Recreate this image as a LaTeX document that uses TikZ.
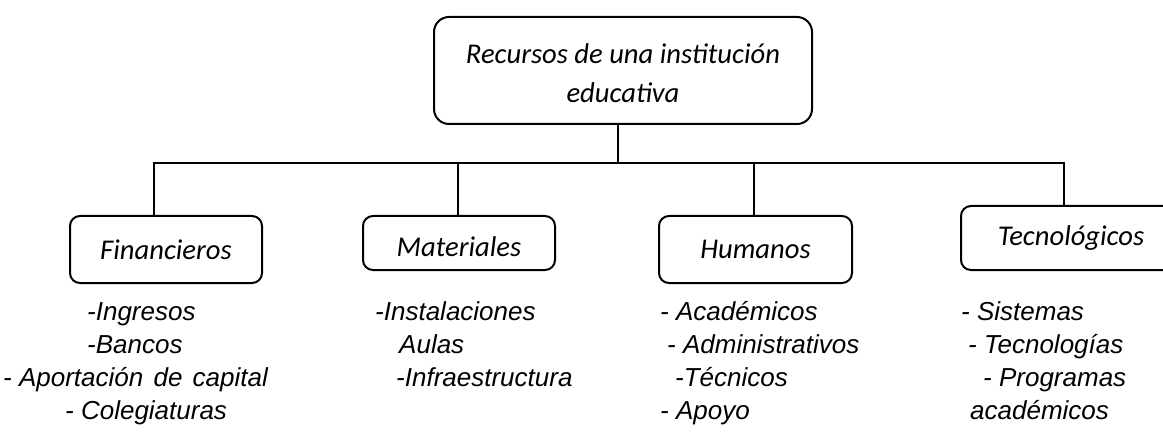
\documentclass[tikz,border=0pt]{standalone}
\usepackage{fontspec}
\setmainfont{Carlito}
\newfontfamily\arialf{Liberation Sans}
\begin{document}
\begin{tikzpicture}[x=1pt,y=-1pt,
  box/.style={draw, line width=2pt, rounded corners=10pt, inner sep=0pt,
    font=\fontsize{28.6}{39}\selectfont\itshape},
  conn/.style={line width=2.4pt},
  item/.style={anchor=base west, inner sep=0pt,
    font=\arialf\fontsize{26}{33}\selectfont\itshape}]
\useasboundingbox (0,0) rectangle (1163,433);
\clip (0,0) rectangle (1163,433);
\node[box, rounded corners=15pt, minimum width=378pt, minimum height=107pt, align=center] (top) at (623,70.5) {\raisebox{-2.5pt}[\height][\depth]{Recursos de una institución}\\\raisebox{-2.5pt}[\height][\depth]{educativa}};
\node[box, minimum width=192pt, minimum height=67pt] (fin) at (166,249.5) {Financieros};
\node[box, minimum width=192pt, minimum height=54pt] (mat) at (459,243) {\raisebox{-4pt}[\height][\depth]{Materiales}};
\node[box, minimum width=193pt, minimum height=67pt] (hum) at (755.5,249.5) {Humanos};
\node[box, minimum width=220pt, minimum height=64pt] (tec) at (1071,238) {Tecnológicos};
\coordinate (bus) at (618,163);
\coordinate (bf) at (154,163);
\coordinate (bm) at (458,163);
\coordinate (bh) at (754,163);
\coordinate (bt) at (1064,163);
\draw[conn] (top.south -| bus) -- (bus);
\draw[conn] (bf |- fin.north) -- (bf) -- (bt) -- (bt |- tec.north);
\draw[conn] (bm) -- (bm |- mat.north);
\draw[conn] (bh) -- (bh |- hum.north);
% Financieros
\node[item] (f1) at (87,320) {-Ingresos};
\node[item] (f2) at (87,353) {-Bancos};
\node[item] (f3) at (3,386) {- Aportación\hspace{3pt} de\hspace{3pt} capital};
\node[item] (f4) at (65,419) {- Colegiaturas};
% Materiales
\node[item] (m1) at (375,320) {-Instalaciones};
\node[item] (m2) at (399,353) {Aulas};
\node[item] (m3) at (396,386) {-Infraestructura};
% Humanos
\node[item] (h1) at (660,320) {- Académicos};
\node[item] (h2) at (667,353) {- Administrativos};
\node[item] (h3) at (675,386) {-Técnicos};
\node[item] (h4) at (660,419) {- Apoyo};
% Tecnologicos
\node[item] (t1) at (961,320) {- Sistemas};
\node[item] (t2) at (968,353) {- Tecnologías};
\node[item] (t3) at (983,386) {- Programas};
\node[item] (t4) at (970,419) {académicos};
\end{tikzpicture}
\end{document}
